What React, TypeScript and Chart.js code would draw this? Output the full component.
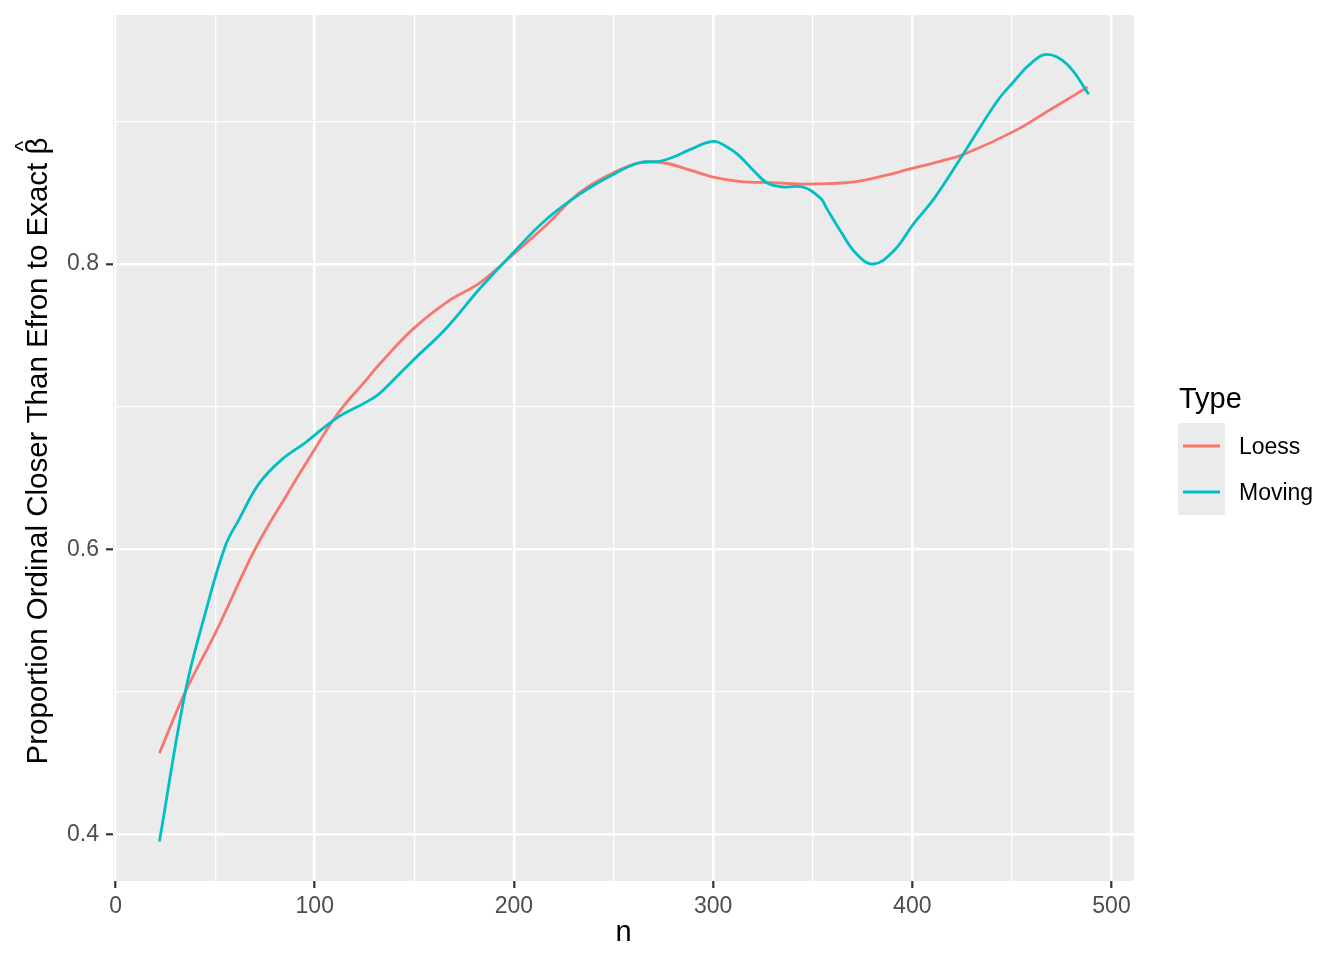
import React, { useEffect, useRef } from "react";
import { Chart, registerables } from "chart.js";

Chart.register(...registerables);

const seriesNames = ["Loess", "Moving"];
const seriesColors = ["#F8766D", "#00BFC4"];

const loessN = [22, 35, 50, 70, 85, 99, 112, 126, 132, 149, 166, 183, 199, 216, 233, 250, 263, 275, 288, 300, 313, 330, 347, 367, 380, 400, 414, 426, 451, 469, 488];
const loessV = [0.457, 0.5, 0.541, 0.6, 0.636, 0.668, 0.696, 0.719, 0.729, 0.754, 0.773, 0.787, 0.806, 0.827, 0.85, 0.864, 0.871, 0.871, 0.866, 0.861, 0.858, 0.857, 0.856, 0.857, 0.86, 0.867, 0.872, 0.877, 0.893, 0.908, 0.924];

const movingN = [22, 35, 45, 55, 62, 72, 83.5, 95.5, 111, 125.6, 132.3, 139, 149, 166, 183, 199, 216, 233, 250, 263, 273, 280, 288, 300, 307, 313, 320, 327, 335, 345, 354, 357, 364, 372, 380.4, 390.5, 400.5, 411, 426, 442.5, 451, 459, 467.6, 477.7, 488.6];
const movingV = [0.395, 0.5, 0.555, 0.602, 0.621, 0.646, 0.663, 0.675, 0.692, 0.703, 0.709, 0.718, 0.732, 0.755, 0.783, 0.807, 0.831, 0.849, 0.863, 0.871, 0.872, 0.875, 0.88, 0.886, 0.882, 0.876, 0.866, 0.857, 0.854, 0.854, 0.846, 0.839, 0.823, 0.807, 0.8, 0.809, 0.828, 0.846, 0.878, 0.914, 0.928, 0.94, 0.947, 0.94, 0.919];

const xTicks = [0, 50, 100, 150, 200, 250, 300, 350, 400, 450, 500];
const yTicks = [0.4, 0.5, 0.6, 0.7, 0.8, 0.9];
const xMajorStep = 100;

const xTitle = "n";
const yTitleMain = "Proportion Ordinal Closer Than Efron to Exact ";
const yTitleSymbol = "\u03B2";
const yTitleHat = "^";
const legendTitle = "Type";

const FONT = '"Liberation Sans", Arial, Helvetica, sans-serif';
const PANEL_BG = "#EBEBEB";

const isMajorX = (v: number) => Math.abs(v % xMajorStep) < 1e-9;
const isMajorY = (v: number) => Math.round(v * 10) % 2 === 0;

const panelPlugin = {
  id: "ggPanel",
  beforeDraw(chart: any) {
    const { ctx, chartArea } = chart;
    ctx.save();
    ctx.fillStyle = "#FFFFFF";
    ctx.fillRect(0, 0, chart.width, chart.height);
    ctx.fillStyle = PANEL_BG;
    ctx.fillRect(chartArea.left, chartArea.top, chartArea.right - chartArea.left, chartArea.bottom - chartArea.top);
    ctx.restore();
  },
};

const yTitlePlugin = {
  id: "ggYTitle",
  afterDraw(chart: any) {
    const { ctx, chartArea } = chart;
    ctx.save();
    ctx.font = `29.5px ${FONT}`;
    const wMain = ctx.measureText(yTitleMain).width;
    const wSym = ctx.measureText(yTitleSymbol).width;
    const total = wMain + wSym;
    const cy = (chartArea.top + chartArea.bottom) / 2 + 3;
    ctx.translate(47, cy);
    ctx.rotate(-Math.PI / 2);
    ctx.fillStyle = "#000000";
    ctx.textAlign = "left";
    ctx.textBaseline = "alphabetic";
    ctx.fillText(yTitleMain, -total / 2, 0);
    ctx.fillText(yTitleSymbol, -total / 2 + wMain, 0);
    ctx.font = `22px ${FONT}`;
    ctx.textAlign = "center";
    ctx.fillText(yTitleHat, -total / 2 + wMain + wSym / 2, -17);
    ctx.restore();
  },
};

const legendPlugin = {
  id: "ggLegend",
  afterDraw(chart: any) {
    const ctx = chart.ctx;
    ctx.save();
    ctx.textAlign = "left";
    ctx.textBaseline = "alphabetic";
    ctx.fillStyle = "#000000";
    ctx.font = `29px ${FONT}`;
    ctx.fillText(legendTitle, 1179, 408);
    ctx.fillStyle = PANEL_BG;
    ctx.fillRect(1178, 423, 47, 92);
    seriesNames.forEach((name, i) => {
      const y = 446 + i * 46;
      ctx.strokeStyle = seriesColors[i];
      ctx.lineWidth = 2.8;
      ctx.beginPath();
      ctx.moveTo(1183, y);
      ctx.lineTo(1220, y);
      ctx.stroke();
      ctx.fillStyle = "#000000";
      ctx.font = `23px ${FONT}`;
      ctx.fillText(name, 1239, y + 8);
    });
    ctx.restore();
  },
};

export default function App() {
  const canvasRef = useRef<HTMLCanvasElement | null>(null);

  useEffect(() => {
    const canvas = canvasRef.current;
    if (!canvas) return;
    const toPts = (xs: number[], ys: number[]) => xs.map((x, i) => ({ x, y: ys[i] }));
    const chart = new Chart(canvas, {
      type: "scatter",
      data: {
        datasets: [
          {
            label: seriesNames[0],
            data: toPts(loessN, loessV),
            showLine: true,
            borderColor: seriesColors[0],
            backgroundColor: seriesColors[0],
            borderWidth: 2.8,
            pointRadius: 0,
            tension: 0.4,
            order: 1,
          },
          {
            label: seriesNames[1],
            data: toPts(movingN, movingV),
            showLine: true,
            borderColor: seriesColors[1],
            backgroundColor: seriesColors[1],
            borderWidth: 2.8,
            pointRadius: 0,
            tension: 0.4,
            order: 0,
          },
        ],
      },
      options: {
        animation: false,
        responsive: false,
        devicePixelRatio: 1,
        layout: { padding: { left: 0, top: 15, right: 210, bottom: 0 } },
        plugins: { legend: { display: false }, tooltip: { enabled: false }, title: { display: false } },
        scales: {
          x: {
            type: "linear",
            min: -1.3,
            max: 511.3,
            afterFit: (s: any) => { s.height = 79; s.paddingLeft = 0; s.paddingRight = 0; },
            afterBuildTicks: (s: any) => { s.ticks = xTicks.map((v) => ({ value: v })); },
            border: { display: false },
            grid: {
              color: "#FFFFFF",
              lineWidth: (c: any) => (isMajorX(c.tick.value) ? 2.6 : 1.3),
              drawTicks: true,
              tickLength: 7,
              tickColor: (c: any) => (isMajorX(c.tick.value) ? "#333333" : "rgba(0,0,0,0)"),
              tickWidth: (c: any) => (isMajorX(c.tick.value) ? 2.2 : 0),
            },
            ticks: {
              autoSkip: false,
              maxRotation: 0,
              minRotation: 0,
              padding: 5,
              color: "#4D4D4D",
              font: { family: FONT, size: 23 },
              callback: (v: any) => (isMajorX(Number(v)) ? String(v) : ""),
            },
            title: {
              display: true,
              text: xTitle,
              color: "#000000",
              font: { family: FONT, size: 29 },
              padding: { top: 0, bottom: 10 },
            },
          },
          y: {
            type: "linear",
            min: 0.3674,
            max: 0.9746,
            afterFit: (s: any) => { s.width = 113; s.paddingTop = 0; s.paddingBottom = 0; },
            afterBuildTicks: (s: any) => { s.ticks = yTicks.map((v) => ({ value: v })); },
            border: { display: false },
            grid: {
              color: "#FFFFFF",
              lineWidth: (c: any) => (isMajorY(c.tick.value) ? 2.6 : 1.3),
              drawTicks: true,
              tickLength: 7,
              tickColor: (c: any) => (isMajorY(c.tick.value) ? "#333333" : "rgba(0,0,0,0)"),
              tickWidth: (c: any) => (isMajorY(c.tick.value) ? 2.2 : 0),
            },
            ticks: {
              autoSkip: false,
              padding: 7,
              color: "#4D4D4D",
              font: { family: FONT, size: 23 },
              callback: (v: any) => (isMajorY(Number(v)) ? Number(v).toFixed(1) : ""),
            },
            title: { display: false },
          },
        },
      },
      plugins: [panelPlugin, yTitlePlugin, legendPlugin],
    } as any);
    return () => chart.destroy();
  }, []);

  return (
    <div style={{ position: "fixed", left: 0, top: 0, width: 1344, height: 960, background: "#FFFFFF" }}>
      <canvas ref={canvasRef} width={1344} height={960} style={{ display: "block", width: 1344, height: 960 }} />
    </div>
  );
}
